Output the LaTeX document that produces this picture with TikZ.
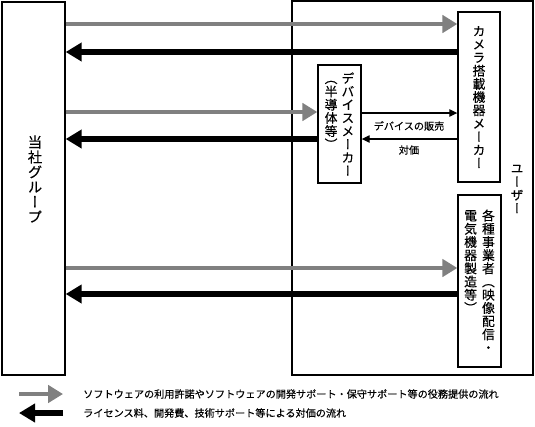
\documentclass[tikz,border=0pt]{standalone}
\usepackage{fontspec}
\usetikzlibrary{arrows.meta}
\newfontfamily\jp{Noto Sans CJK JP}[FakeBold=0.3]
\newfontfamily\tatefont{Noto Sans CJK JP}[RawFeature=+vert,FakeBold=0.3]
\definecolor{flowgray}{RGB}{128,128,128}
% one column of vertical text
\makeatletter
\newcommand\tate[1]{\vtop{\tatefont\@tfor\tch:=#1\do{\hbox to 1em{\hss\tch\hss}}}}
\makeatother

\begin{document}
\begin{tikzpicture}[x=0.75pt,y=0.75pt,yscale=-1,xscale=1,
	box/.style={draw,line width=1pt,inner sep=0pt,font=\fontsize{9.6}{9.9}\selectfont},
	gflow/.style={draw=flowgray,line width=3.2pt,-{Triangle[length=11.25pt,width=13pt]}},
	bflow/.style={draw=black,line width=4.8pt,-{Triangle[length=12pt,width=13.5pt]}},
	tflow/.style={draw=black,line width=0.9pt,-{Triangle[length=6pt,width=5.5pt]}},
	small/.style={font=\jp\fontsize{7.6}{9}\selectfont,inner sep=0.75pt}]
	\useasboundingbox (0,0) rectangle (535,426);
	% boxes
	\node [box,minimum width=47.25pt,minimum height=279.75pt] (grp) at (33.5,188.5) {};
	\node [box,minimum width=180.75pt,minimum height=280.5pt] (user) at (412.5,188) {};
	\node [box,minimum width=31.5pt,minimum height=127.5pt] (cam) at (479,97) {\tate{カメラ搭載機器メーカー}};
	\node [box,minimum width=32.25pt,minimum height=88.5pt] (dev) at (339.5,124) {\tate{（半導体等）}\hspace{3pt}\tate{デバイスメーカー}};
	\node [box,minimum width=32.25pt,minimum height=129pt] (misc) at (479.5,281) {\tate{電気機器製造等）}\hspace{3.8pt}\tate{各種事業者（映像配信・}};
	\node [inner sep=0pt,font=\fontsize{10.8}{11.2}\selectfont] (grplbl) at (35,179) {\tate{当社グループ}};
	\node [inner sep=0pt,font=\fontsize{9.6}{10}\selectfont] (userlbl) at (517,189) {\tate{ユーザー}};
	% flows
	\draw [gflow] (grp.east |- 0,24) -- (cam.west |- 0,24);
	\draw [bflow] (cam.west |- 0,52) -- (grp.east |- 0,52);
	\draw [gflow] (grp.east |- 0,112) -- (dev.west |- 0,112);
	\draw [bflow] (dev.west |- 0,139) -- (grp.east |- 0,139);
	\draw [tflow] (dev.east |- 0,113) -- (cam.west |- 0,113);
	\draw [tflow] (cam.west |- 0,139) -- (dev.east |- 0,139);
	\node [small] (sale) at (409,126) {デバイスの販売};
	\node [small] (price) at (409,150) {対価};
	\draw [gflow] (grp.east |- 0,268) -- (misc.west |- 0,268);
	\draw [bflow] (misc.west |- 0,294) -- (grp.east |- 0,294);
	% legend
	\coordinate (lg1) at (19,394);
	\coordinate (lg2) at (63,394);
	\coordinate (lb1) at (63,413);
	\coordinate (lb2) at (19,413);
	\draw [gflow] (lg1) -- (lg2);
	\draw [bflow] (lb1) -- (lb2);
	\node [small,anchor=west] (lgtext1) at (82,394) {ソフトウェアの利用許諾やソフトウェアの開発サポート・保守サポート等の役務提供の流れ};
	\node [small,anchor=west] (lgtext2) at (82,413) {ライセンス料、開発費、技術サポート等による対価の流れ};
\end{tikzpicture}
\end{document}
